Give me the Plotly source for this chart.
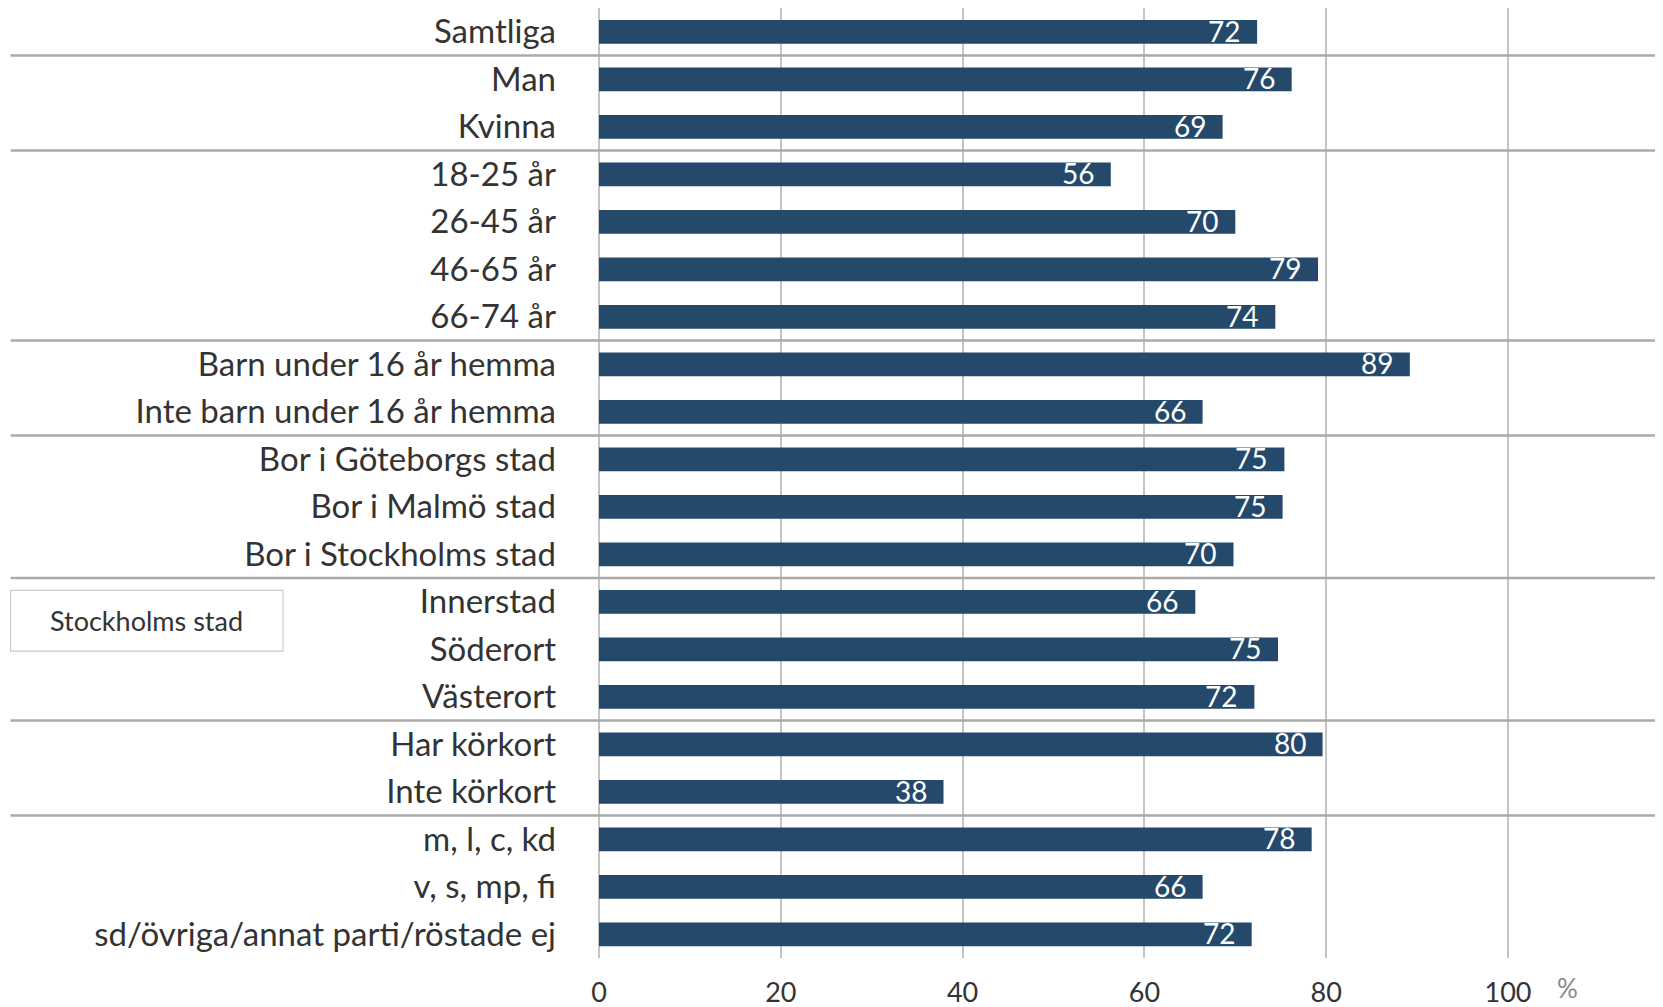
import plotly.graph_objects as go

categories = [
    "Samtliga", "Man", "Kvinna", "18-25 år", "26-45 år", "46-65 år", "66-74 år",
    "Barn under 16 år hemma", "Inte barn under 16 år hemma",
    "Bor i Göteborgs stad", "Bor i Malmö stad", "Bor i Stockholms stad",
    "Innerstad", "Söderort", "Västerort", "Har körkort", "Inte körkort",
    "m, l, c, kd", "v, s, mp, fi", "sd/övriga/annat parti/röstade ej",
]
values = [72.4, 76.2, 68.6, 56.3, 70.0, 79.1, 74.4, 89.2, 66.4, 75.4,
          75.2, 69.8, 65.6, 74.7, 72.1, 79.6, 37.9, 78.4, 66.4, 71.8]
labels = [72, 76, 69, 56, 70, 79, 74, 89, 66, 75, 75, 70, 66, 75, 72, 80, 38, 78, 66, 72]
# group separators sit after these category positions
group_breaks = [0.5, 2.5, 6.5, 8.5, 11.5, 14.5, 16.5]
x_ticks = [0, 20, 40, 60, 80, 100]

FONT = "Lato"
BAR = "#24496b"

fig = go.Figure()
fig.add_trace(go.Bar(
    x=values, y=categories, orientation="h",
    marker=dict(color=BAR, line=dict(width=0)),
    hoverinfo="skip",
))

for cat, v, lab in zip(categories, values, labels):
    fig.add_annotation(x=v, y=cat, text=str(lab), showarrow=False,
                       xanchor="right", yanchor="middle", xshift=-15, yshift=1,
                       font=dict(family=FONT, size=28, color="white"))

for b in group_breaks:
    fig.add_shape(type="line", xref="paper", yref="y", x0=-0.553, x1=1, y0=b, y1=b,
                  line=dict(color="#aaaaaa", width=2.5), layer="above")

# boxed label beside the Stockholm districts
fig.add_shape(type="rect", xref="paper", yref="y", x0=-0.553, x1=-0.297,
              y0=11.76, y1=13.04, line=dict(color="#cccccc", width=1.2))
fig.add_annotation(xref="paper", yref="y", x=-0.425, y=12.4, text="Stockholms stad",
                   showarrow=False, xanchor="center", yanchor="middle",
                   font=dict(family=FONT, size=27, color="#333333"))

fig.add_annotation(xref="x", yref="paper", x=100, y=0, text="%", showarrow=False,
                   xanchor="left", yanchor="top", xshift=48, yshift=-13,
                   borderpad=0, font=dict(family=FONT, size=26, color="#888888"))

fig.update_layout(
    width=1655, height=999,
    margin=dict(l=591, r=0, t=0, b=49, autoexpand=False),
    plot_bgcolor="white", paper_bgcolor="white",
    showlegend=False, bargap=0.5,
    font=dict(family=FONT, color="#333333"),
)
fig.update_xaxes(range=[0, 117.05], tickvals=x_ticks, showgrid=True,
                 gridcolor="#c4c4c4", gridwidth=2, zeroline=True,
                 zerolinecolor="#c4c4c4", zerolinewidth=2,
                 showline=False, ticks="", ticklabelstandoff=16,
                 tickfont=dict(family=FONT, size=27, color="#333333"))
fig.update_yaxes(range=[19.5, -0.5], showgrid=False, showline=False, ticks="",
                 ticklabelstandoff=42,
                 tickfont=dict(family=FONT, size=33, color="#333333"))

fig.write_html("out.html")
